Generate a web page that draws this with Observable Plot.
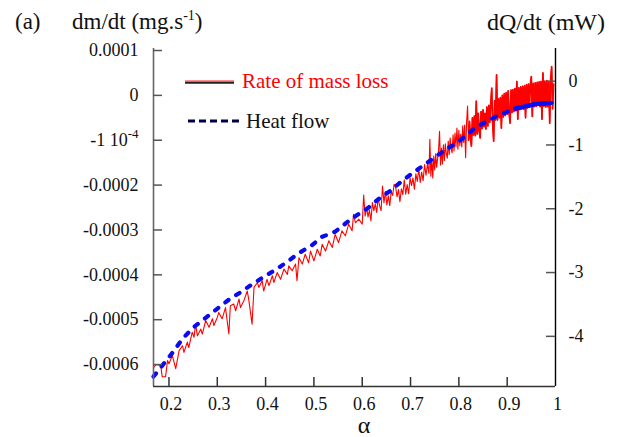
<!DOCTYPE html>
<html>
<head>
<meta charset="utf-8">
<script src="https://cdn.jsdelivr.net/npm/d3@7"></script>
<script src="https://cdn.jsdelivr.net/npm/@observablehq/plot@0.6"></script>
<style>
  html, body { margin: 0; padding: 0; background: #fff; }
  #chart { width: 621px; height: 437px; }
</style>
</head>
<body>
<div id="chart"></div>
<script>
// ---------- Data ----------
// x domain (alpha) and left y domain (units of 1e-4 mg/s)
const xDomain = [0.168, 1];
const yDomain = [-6.489, 1.045];

const xTickValues = [0.2, 0.3, 0.4, 0.5, 0.6, 0.7, 0.8, 0.9, 1];
const xTickLabels = ["0.2", "0.3", "0.4", "0.5", "0.6", "0.7", "0.8", "0.9", "1"];

const leftTickValues = [1, 0, -1, -2, -3, -4, -5, -6];
const leftTickLabels = ["0.0001", "0", "-1 10-4", "-0.0002", "-0.0003", "-0.0004", "-0.0005", "-0.0006"];

const rightTickValues = [0, -1, -2, -3, -4];
const rightTickLabels = ["0", "-1", "-2", "-3", "-4"];

// Rate of mass loss: alpha and dm/dt (x 1e-4 mg/s)
const massAlpha = [
  0.169,0.173,0.183,0.186,0.193,0.197,0.200,0.207,0.214,0.221,0.228,0.231,0.238,0.241,0.248,0.252,0.255,0.259,0.266,0.269,
  0.276,0.283,0.290,0.293,0.300,0.303,0.310,0.317,0.324,0.327,0.334,0.338,0.345,0.348,0.355,0.362,0.365,0.372,0.376,0.383,
  0.386,0.393,0.396,0.403,0.407,0.414,0.417,0.424,0.431,0.438,0.445,0.448,0.455,0.462,0.465,0.469,0.476,0.482,0.489,0.493,
  0.500,0.507,0.513,0.517,0.524,0.531,0.538,0.544,0.551,0.558,0.565,0.572,0.579,0.582,0.586,0.593,
  0.600,0.603,0.606,0.609,0.612,0.615,0.618,0.621,0.624,0.627,
  0.630,0.633,0.636,0.639,0.642,0.645,0.648,0.651,0.654,0.657,
  0.660,0.663,0.666,0.669,0.672,0.675,0.678,0.681,0.684,0.687,
  0.690,0.693,0.696,0.699,0.702,0.705,0.708,0.711,0.714,0.717,
  0.720,0.723,0.726,0.729,0.732,0.735,0.738,
  0.740,0.742,0.744,0.746,0.748,0.750,0.752,0.754,0.756,0.758,
  0.760,0.762,0.764,0.766,0.768,0.770,0.772,0.774,0.776,0.778,
  0.780,0.782,0.784,0.786,0.788,0.790,0.792,0.794,0.796,0.798,
  0.800,0.802,0.804,0.806,0.808,0.810,0.812,0.814,0.816,0.818,
  0.820,0.822,0.824,0.826,0.828,0.830,0.832,0.834,0.836,0.838,
  0.840,0.842,0.844,0.846,0.848,0.850,0.852,0.854,0.856,0.858,
  0.860,0.862,0.864,0.866,0.868,0.870,0.872,0.874,0.876,0.878,
  0.880,0.882,0.884,0.886,0.888,0.890,0.892,0.894,0.896,0.898,
  0.900,0.902,0.904,0.906,0.908,0.910,0.912,0.914,0.916,0.918,
  0.920,0.922,0.924,0.926,0.928,0.930,0.932,0.934,0.936,0.938,
  0.940,0.942,0.944,0.946,0.948,0.950,0.952,0.954,0.956,0.958,
  0.960,0.962,0.964,0.966,0.968,0.970,0.972,0.974,0.976,0.978,
  0.980,0.982,0.984,0.986,0.988,0.990,0.992,0.994,0.996
];
const massRate = [
  -6.06,-6.00,-6.02,-6.27,-6.27,-5.91,-5.98,-5.80,-6.09,-5.69,-5.58,-5.73,-5.50,-5.62,-5.28,-5.39,-5.10,-5.36,-5.21,-5.32,
  -5.02,-5.17,-4.98,-5.13,-4.95,-4.84,-4.98,-4.73,-5.32,-4.69,-4.65,-4.80,-4.54,-4.73,-4.58,-4.36,-4.54,-5.10,-4.28,-4.17,
  -4.28,-4.13,-4.36,-4.10,-4.24,-4.02,-4.17,-3.95,-4.10,-3.87,-3.99,-3.80,-3.91,-3.76,-4.13,-3.62,-3.76,-3.54,-3.73,-3.47,
  -3.69,-3.43,-3.58,-3.32,-3.47,-3.24,-3.39,-3.10,-3.28,-3.02,-3.13,-2.87,-3.02,-2.65,-2.84,-2.76,
  -2.87,-2.22,-2.69,-2.49,-2.71,-2.56,-2.80,-2.39,-2.57,-2.42,
  -2.61,-2.28,-2.46,-2.57,-2.02,-2.39,-2.14,-2.44,-2.24,-2.46,
  -2.14,-2.23,-1.98,-2.04,-2.26,-2.10,-2.37,-2.08,-2.21,-1.88,
  -2.20,-1.99,-2.19,-1.84,-2.01,-1.84,-2.09,-1.75,-1.92,-1.63,
  -1.94,-1.71,-1.90,-1.54,-1.78,-1.53,-1.74,
  -0.98,-1.80,-1.42,-1.84,-1.35,-1.66,-1.30,-1.60,-1.41,-1.22,
  -0.80,-1.55,-1.18,-1.53,-1.10,-1.45,-1.08,-1.30,-1.40,-1.02,
  -1.32,-0.95,-1.20,-1.28,-0.88,-1.24,-0.84,-1.15,-0.73,-1.20,
  -0.78,-1.12,-0.86,-1.15,-0.68,-1.05,-0.66,-1.39,-0.60,-0.24,
  -1.00,-0.58,-0.95,-1.13,-0.50,-0.88,-0.46,-0.90,-0.13,-0.86,
  -0.40,-0.78,-0.95,-0.36,-0.74,-0.32,-0.70,-0.40,-0.75,-0.26,
  -0.68,-0.22,-0.60,-0.18,0.16,-0.62,-1.02,-0.12,-0.55,0.46,
  -0.55,-0.08,-0.50,-0.05,-0.73,0.00,-0.48,0.04,-0.45,0.06,
  -0.42,0.10,-0.40,-0.62,0.12,-0.38,0.13,-0.36,0.15,-0.34,
  0.31,-0.53,0.17,-0.32,0.19,-0.30,0.20,-0.31,0.22,-0.50,
  0.24,-0.28,0.25,-0.27,0.26,0.42,-0.47,0.27,-0.25,0.28,
  -0.24,0.29,-0.22,0.30,-0.25,0.31,-0.53,0.50,-0.24,0.32,
  -0.26,0.33,-0.25,0.31,-0.62,0.35,0.64,-0.30,0.25
];

// Heat flow: alpha and dQ/dt (mW)
const heatAlpha = [0.168,0.208,0.228,0.249,0.276,0.301,0.323,0.348,0.373,0.396,0.424,0.447,0.468,0.496,0.517,0.544,0.569,0.589,
  0.610,0.635,0.658,0.680,0.699,0.734,0.775,0.796,0.834,0.875,0.916,0.958,0.992];
const heatFlow = [-4.63,-4.25,-4.04,-3.87,-3.71,-3.56,-3.43,-3.31,-3.18,-3.07,-2.94,-2.82,-2.70,-2.57,-2.44,-2.36,-2.21,-2.10,
  -2.00,-1.84,-1.72,-1.58,-1.47,-1.28,-1.06,-0.97,-0.73,-0.56,-0.43,-0.36,-0.34];

// right axis (mW) -> left axis units (1e-4 mg/s), dual-axis alignment
const mwOffset = 0.317, mwScale = 1.422;
const mwToLeft = q => mwOffset + mwScale * q;

// ---------- Build ----------
const massRows = massAlpha.map((a, i) => ({alpha: a, rate: massRate[i]}));
const heatRows = heatAlpha.map((a, i) => ({alpha: a, y: mwToLeft(heatFlow[i])}));

const W = 621, H = 437, mL = 153, mR = 66, mT = 48, mB = 51;
const plotW = W - mL - mR, plotH = H - mT - mB;
const serif = "'Liberation Serif', 'Times New Roman', Times, serif";

const svg = Plot.plot({
  width: W, height: H,
  marginLeft: mL, marginRight: mR, marginTop: mT, marginBottom: mB,
  style: {fontFamily: serif, fontSize: "18px", background: "#fff", color: "#000", overflow: "visible"},
  x: {domain: xDomain, axis: null},
  y: {domain: yDomain, axis: null},
  marks: [
    Plot.line(massRows, {x: "alpha", y: "rate", stroke: "#ff0000", strokeWidth: 1.1}),
    Plot.line(massRows.filter(d => d.alpha >= 0.82), {x: "alpha", y: "rate", stroke: "#ff0000", strokeWidth: 1.7}),
    Plot.line(heatRows, {x: "alpha", y: "y", stroke: "#0b0bf0", strokeWidth: 4.2, strokeDasharray: "4,9", strokeLinecap: "round"}),
    Plot.line(heatRows.filter(d => d.alpha >= 0.916), {x: "alpha", y: "y", stroke: "#0b0bf0", strokeWidth: 4.2, strokeLinecap: "round"}),
    // axis lines
    Plot.ruleX([xDomain[0]], {stroke: "#666", strokeWidth: 1.6}),
    Plot.ruleX([xDomain[1]], {stroke: "#000", strokeWidth: 1.4}),
    Plot.ruleY([yDomain[0]], {stroke: "#333", strokeWidth: 1.5}),
    // inward ticks
    Plot.tickY(leftTickValues, {y: d => d, insetRight: plotW - 9, stroke: "#555", strokeWidth: 1.5}),
    Plot.tickY(rightTickValues.map(mwToLeft), {y: d => d, insetLeft: plotW - 9, stroke: "#555", strokeWidth: 1.5}),
    Plot.tickX(xTickValues.filter(v => v < 1), {x: d => d, insetTop: plotH - 9, stroke: "#333", strokeWidth: 1.5}),
    // tick labels
    Plot.text(leftTickValues, {y: d => d, frameAnchor: "left", dx: -15, textAnchor: "end", text: (d, i) => leftTickLabels[i], fill: "#111"}),
    Plot.text(rightTickValues.map(mwToLeft), {y: d => d, frameAnchor: "right", dx: 13, textAnchor: "start", text: (d, i) => rightTickLabels[i], fill: "#111"}),
    Plot.text(xTickValues, {x: d => d, frameAnchor: "bottom", dx: 2, dy: 11, lineAnchor: "top", text: (d, i) => xTickLabels[i], fill: "#111"})
  ]
});

// superscript in "-1 10-4"
d3.select(svg).selectAll("text").each(function() {
  if (this.textContent === "-1 10-4") {
    const t = d3.select(this);
    t.text("-1 10");
    t.append("tspan").attr("dy", -8).attr("font-size", 13).text("-4");
  }
});

const s = d3.select(svg);
const g = s.append("g").attr("font-family", serif).attr("fill", "#111").attr("text-anchor", "start");
g.append("text").attr("x", 15).attr("y", 29).attr("font-size", 23).text("(a)");
const t1 = g.append("text").attr("x", 72).attr("y", 29).attr("font-size", 23).text("dm/dt (mg.s");
t1.append("tspan").attr("dy", -9).attr("font-size", 14).text("-1");
t1.append("tspan").attr("dy", 9).text(")");
g.append("text").attr("x", 487).attr("y", 30).attr("font-size", 24).text("dQ/dt (mW)");
g.append("text").attr("x", 364).attr("y", 433).attr("font-size", 24).attr("text-anchor", "middle").text("α");

// legend
const lg = s.append("g").attr("font-family", serif).attr("text-anchor", "start");
lg.append("line").attr("x1", 185).attr("x2", 234).attr("y1", 82.8).attr("y2", 82.8).attr("stroke", "#222").attr("stroke-width", 1.8);
lg.append("line").attr("x1", 185).attr("x2", 234).attr("y1", 81.2).attr("y2", 81.2).attr("stroke", "#ff2020").attr("stroke-width", 1.2);
lg.append("text").attr("x", 242).attr("y", 88).attr("font-size", 21).attr("fill", "#ff0000").text("Rate of mass loss");
lg.append("line").attr("x1", 188).attr("x2", 241).attr("y1", 121).attr("y2", 121).attr("stroke", "#00004d").attr("stroke-width", 3).attr("stroke-dasharray", "7,4");
lg.append("text").attr("x", 246).attr("y", 128).attr("font-size", 21).attr("fill", "#111").text("Heat flow");

document.getElementById("chart").appendChild(svg);
</script>
</body>
</html>
